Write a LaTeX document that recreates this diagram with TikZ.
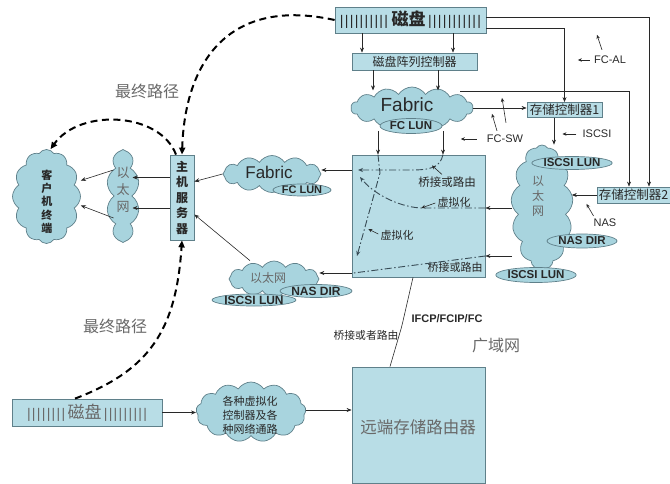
\documentclass[tikz,border=0pt]{standalone}
\usepackage{fontspec}
\setmainfont{Liberation Sans}
\newfontfamily\cjk{Noto Sans CJK SC}
\usetikzlibrary{shapes.symbols,shapes.geometric,arrows.meta,calc}
\definecolor{boxc}{RGB}{184,221,230}
\definecolor{cldc}{RGB}{168,212,222}
\definecolor{bordc}{RGB}{95,128,138}
\definecolor{linec}{RGB}{40,40,40}
\definecolor{grayt}{RGB}{105,105,105}
\definecolor{virtc}{RGB}{55,75,85}
\newcommand{\myfs}[1]{\fontsize{#1}{#1}\selectfont}
\newcommand{\bb}{|\kern1.3pt}
\begin{document}
\begin{tikzpicture}[x=1pt,y=-1pt,
  rbox/.style={draw=bordc,fill=boxc,line width=0.8pt,inner sep=0pt,text=linec},
  cld/.style={cloud,cloud puffs=#1,cloud puff arc=115,cloud ignores aspect,draw=bordc,fill=cldc,line width=0.7pt,inner sep=0pt},
  lun/.style={ellipse,draw=bordc,fill=cldc,line width=0.7pt,inner sep=0pt,text=linec,font=\bfseries\myfs{11.5}},
  txt/.style={inner sep=0pt,text=linec},
  conn/.style={draw=linec,line width=0.6pt,-{Stealth[length=5pt,width=4pt]}},
  note/.style={draw=linec,line width=0.6pt,-{Stealth[length=4pt,width=3.5pt]}},
  fpath/.style={draw=black,line width=2pt,dash pattern=on 7pt off 4.5pt,-{Triangle[length=7pt,width=6pt]}},
  virt/.style={draw=virtc,line width=0.9pt,dash pattern=on 7pt off 2.5pt on 1.5pt off 2.5pt},
  varr/.style={virt,-{Stealth[length=5pt,width=4pt]}}
]
\useasboundingbox (0,0) rectangle (670,484);

% ---- top storage ----
\node[rbox,minimum width=151,minimum height=26] (disk1) at (410.5,20)
  {\myfs{14}\bb\bb\bb\bb\bb\bb\bb\bb\bb\bb\,{\cjk\bfseries\myfs{17}磁盘}\,\bb\bb\bb\bb\bb\bb\bb\bb\bb\bb|};
\node[rbox,minimum width=125,minimum height=17] (ctrl) at (414.5,61.5) {\cjk\myfs{12}磁盘阵列控制器};
\node[cld=14,minimum width=122,minimum height=42] (fab1) at (412,108) {};
\node[txt,font=\myfs{19}] (fab1t) at (407,105) {Fabric};
\node[lun,minimum width=62,minimum height=15] (fclun1) at (411,126) {FC LUN};
\node[rbox,minimum width=75,minimum height=15] (sc1) at (564.5,110) {\cjk\myfs{12.5}存储控制器1};
\node[rbox,minimum width=73,minimum height=16] (sc2) at (633.5,195) {\cjk\myfs{12.5}存储控制器2};

% ---- right ethernet ----
\node[cld=13,minimum width=62,minimum height=124] (eth1) at (542,207) {};
\node[txt,align=center,text=grayt,font=\cjk\fontsize{12}{15}\selectfont] (eth1t) at (538,196) {以\\太\\网};
\node[lun,minimum width=70,minimum height=13] (iscsi1) at (572,163) {ISCSI LUN};
\node[lun,minimum width=70,minimum height=14] (nasdir1) at (582,241) {NAS DIR};
\node[lun,minimum width=70,minimum height=15] (iscsi2) at (536,275) {ISCSI LUN};

% ---- centre box ----
\node[rbox,minimum width=133,minimum height=122] (cbox) at (418.5,216) {};

% ---- left side ----
\node[cld=12,minimum width=98,minimum height=37] (fab2) at (272,174) {};
\node[txt,font=\myfs{17}] (fab2t) at (269,172) {Fabric};
\node[lun,minimum width=58,minimum height=12,font=\bfseries\myfs{11}] (fclun2) at (302,190) {FC LUN};
\node[rbox,minimum width=24,minimum height=85,align=center,font=\cjk\bfseries\fontsize{12}{15.5}\selectfont] (server) at (182,197.5) {主\\机\\服\\务\\器};
\node[cld=10,minimum width=33,minimum height=93] (eth2) at (123,196) {};
\node[txt,align=center,text=grayt,font=\cjk\fontsize{13}{17}\selectfont] (eth2t) at (123,190) {以\\太\\网};
\node[cld=12,minimum width=68,minimum height=94] (client) at (46.5,196.5) {};
\node[txt,align=center,font=\cjk\bfseries\fontsize{11}{13.3}\selectfont] (clientt) at (47,201.5) {客\\户\\机\\终\\端};
\node[cld=12,minimum width=90,minimum height=36] (eth3) at (274,279) {};
\node[txt,text=grayt,font=\cjk\myfs{12}] (eth3t) at (268,278) {以太网};
\node[lun,minimum width=72,minimum height=13,font=\bfseries\myfs{12}] (nasdir2) at (316,291) {NAS DIR};
\node[lun,minimum width=72,minimum height=12,font=\bfseries\myfs{12}] (iscsi3) at (254,300) {ISCSI LUN};

% ---- bottom ----
\node[rbox,minimum width=150,minimum height=27,text=grayt] (disk2) at (87,412.5)
  {\myfs{14}\bb\bb\bb\bb\bb\bb\bb|\,{\cjk\myfs{17}磁盘}\,\bb\bb\bb\bb\bb\bb\bb\bb|};
\node[cld=13,minimum width=110,minimum height=60] (cloud3) at (251,412) {};
\node[txt,align=center,font=\cjk\fontsize{11}{14}\selectfont] (cloud3t) at (250,415) {各种虚拟化\\控制器及各\\种网络通路};
\node[rbox,minimum width=133,minimum height=116] (remote) at (418.5,425) {};
\node[txt,text=grayt,font=\cjk\myfs{16.5}] (remotet) at (418,427) {远端存储路由器};

% ---- labels ----
\node[txt,text=grayt,font=\cjk\myfs{16}] (lp1) at (147,91) {最终路径};
\node[txt,text=grayt,font=\cjk\myfs{16}] (lp2) at (115,326) {最终路径};
\node[txt,font=\myfs{11}] (fcal) at (610,60) {FC-AL};
\node[txt,font=\myfs{11}] (fcsw) at (505,139) {FC-SW};
\node[txt,font=\myfs{11}] (iscsit) at (597,134) {ISCSI};
\node[txt,font=\myfs{11}] (nast) at (605,223) {NAS};
\node[txt,font=\cjk\myfs{11.5}] (qj1) at (447,182) {桥接或路由};
\node[txt,font=\cjk\myfs{11}] (xn1) at (454,202) {虚拟化};
\node[txt,font=\cjk\myfs{11}] (xn2) at (397,235) {虚拟化};
\node[txt,font=\cjk\myfs{11}] (qj2) at (455,267) {桥接或路由};
\node[txt,font=\bfseries\myfs{11}] (ifcp) at (447,319) {IFCP/FCIP/FC};
\node[txt,font=\cjk\myfs{10.8}] (qj3) at (366,335) {桥接或者路由};
\node[txt,text=grayt,font=\cjk\myfs{16}] (wan) at (496,345) {广域网};

% ---- connectors ----
\coordinate (pa) at ([xshift=-48.5pt]disk1.south);
\coordinate (pb) at ([xshift=42.5pt]disk1.south);
\draw[conn] (pa) -- (pa |- ctrl.north);
\draw[conn] (pb) -- (pb |- ctrl.north);
\coordinate (pc) at ([xshift=-41.5pt]ctrl.south);
\coordinate (pd) at ([xshift=23.5pt]ctrl.south);
\draw[conn] (pc) -- ++(0,20);
\draw[conn] (pd) -- ++(0,20);
\coordinate (fa) at (460,91);
\draw[conn] (fa) -| ([xshift=-4.5pt]sc2.north);
\draw[conn] ([yshift=3pt]disk1.east) -| ([xshift=15.5pt]sc2.north);
\draw[conn] ([yshift=-8pt]disk1.east) -| (sc1.north);
\draw[conn] (fab1.east) -- (fab1.east -| sc1.west);
\coordinate (pe) at ([xshift=-10.5pt]sc1.south);
\draw[conn] (pe) -- (pe |- eth1.north);
\draw[conn] (sc2.west) -- (sc2.west -| eth1.east);
\coordinate (pf) at ([yshift=-1pt]eth1.west);
\draw[conn] (pf) -- (pf -| cbox.east);
\coordinate (pg) at ([yshift=-49pt]eth1.west);
\draw[conn] (pg) -- (pg -| cbox.east);
\coordinate (ph) at (378,131);
\coordinate (pi) at (443,131);
\draw[conn] (ph) -- (ph |- cbox.north);
\draw[conn] (pi) -- (pi |- cbox.north);
\coordinate (pj) at ([yshift=46pt]cbox.west);
\draw[conn] (pj) -- (pj -| fab2.east);
\draw[conn] (fab2.west) -- ([yshift=16pt]server.east);
\draw[conn] ([xshift=-24pt]eth3.north) -- ([yshift=-17pt]server.east);
\coordinate (pk) at ([yshift=-57pt]cbox.west);
\draw[conn] (pk) -- (pk -| eth3.east);
\coordinate (pl) at ([yshift=20pt]server.west);
\draw[conn] (pl) -- (pl -| eth2.east);
\coordinate (pm) at ([yshift=-10.5pt]server.west);
\draw[conn] (pm) -- (pm -| eth2.east);
\draw[conn] ([yshift=26pt]eth2.west) -- ([yshift=16pt]client.east);
\draw[conn] ([yshift=-22pt]eth2.west) -- ([yshift=-9pt]client.east);
\draw[conn] (disk2.east) -- (disk2.east -| cloud3.west);
\coordinate (pn) at ([yshift=2pt]cloud3.east);
\draw[conn] (pn) -- (pn -| remote.west);
\draw[draw=linec,line width=0.6pt] ([xshift=-5.5pt]cbox.south) -- (403,321) -- (401,329) -- ([xshift=-28.5pt]remote.north);

% ---- paths inside centre box ----
\coordinate (va) at (358,170);
\coordinate (vb) at (360,177);
\coordinate (vc) at (357,256);
\draw[varr] (pi |- cbox.north) .. controls (440,168) and (430,170) .. (410,170) -- (va);
\draw[varr] (pf -| cbox.east) -- (420,208) .. controls (395,206) and (372,192) .. (vb);
\draw[varr] (ph |- cbox.north) .. controls (379,165) .. (380,173) -- (vc);
\draw[virt] (pg -| cbox.east) -- ([xshift=2pt]pk);

% ---- final paths ----
\draw[fpath] (disk1.west) .. controls (230,-3) and (185,60) .. (server.north);
\draw[fpath] ([xshift=-6pt]server.north) .. controls (160,112) and (80,108) .. ([xshift=4pt]client.north);
\draw[fpath] ([xshift=-12pt]disk2.north) .. controls (150,370) and (176,330) .. (server.south);

% ---- annotation arrows ----
\draw[note] ([xshift=-4pt]fcal.west) -- ++(-12,0);
\draw[note] ($(fcal.north)+(-8,-6)$) -- ++(-5,-15);
\draw[note] ([xshift=-10pt]fcsw.west) -- ++(-16,0);
\draw[note] ($(fcsw.north)+(1,-12)$) -- ++(-4,-25);
\draw[note] ($(fcsw.north)+(-8,-4)$) -- ++(-5,-17);
\draw[note] ([xshift=-6pt]iscsit.west) -- ++(-14,0);
\draw[note] ($(nast.north west)+(0,-3)$) -- ++(-7,-12);
\draw[note] ($(qj1.north)+(-5,-2)$) -- ++(-10,-9);
\draw[note] ($(xn1.west)+(-2,1)$) -- ++(-14,5);
\draw[note] ($(xn2.west)+(-2,-1)$) -- ++(-10,-5);
\end{tikzpicture}
\end{document}
